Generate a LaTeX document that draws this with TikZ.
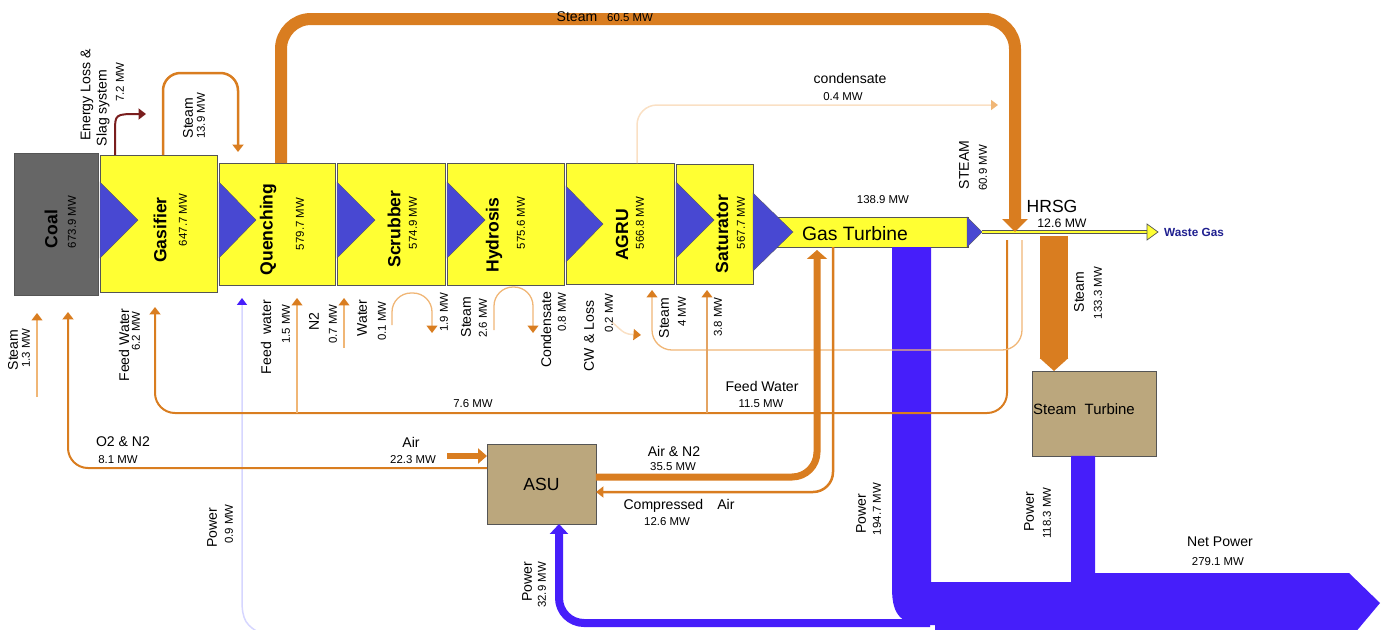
\documentclass[tikz,border=0pt]{standalone}
\usepackage{fontspec}
\setmainfont{Liberation Sans}
\usetikzlibrary{arrows.meta}

\definecolor{flowor}{HTML}{D97D20}
\definecolor{paleor}{HTML}{F0B676}
\definecolor{faintor}{HTML}{FAE0C4}
\definecolor{unityel}{HTML}{FFFF33}
\definecolor{triblue}{HTML}{4848D2}
\definecolor{powblue}{HTML}{461EFA}
\definecolor{faintblue}{HTML}{D6D6FF}
\definecolor{coalgray}{HTML}{666666}
\definecolor{plantan}{HTML}{BBA77D}
\definecolor{slagred}{HTML}{7A1E1E}
\definecolor{wastenavy}{HTML}{1F1F8F}
\definecolor{edgegray}{HTML}{555555}

\begin{document}
\begin{tikzpicture}[
    x=0.02cm, y=-0.02cm,
    unitbox/.style={draw=edgegray, fill=unityel, line width=0.5pt, inner sep=0, outer sep=0},
    plant/.style={draw=edgegray, fill=plantan, line width=0.5pt, inner sep=0, outer sep=0},
    tri/.style={fill=triblue, draw=edgegray, line width=0.2pt},
    unitname/.style={rotate=90, inner sep=0, font=\bfseries\fontsize{10}{12}\selectfont},
    txt/.style={inner sep=0, font=\fontsize{8}{9.5}\selectfont},
    mw/.style={inner sep=0, font=\fontsize{6.5}{8}\selectfont},
    vert/.style={rotate=90},
    flowtip/.style={-{Triangle[width=0.22cm, length=0.15cm, color=flowor]}},
    flow/.style={flowtip, draw=flowor, line width=0.04cm, rounded corners=0.4cm},
    paleflow/.style={flow, draw=paleor, line width=0.026cm}
]
\useasboundingbox (0,0) rectangle (1389,629);
\clip (0,0) rectangle (1389,629);

% process chain
\node[unitbox, fill=coalgray, minimum width=1.68cm, minimum height=2.84cm] (coal) at (56,224) {};
\node[unitbox, minimum width=2.34cm, minimum height=2.74cm] (gasifier) at (158.5,223.5) {};
\node[unitbox, minimum width=2.32cm, minimum height=2.44cm] (quench) at (277,224) {};
\node[unitbox, minimum width=2.16cm, minimum height=2.44cm] (scrub) at (391,224) {};
\node[unitbox, minimum width=2.34cm, minimum height=2.44cm] (hydro) at (505.5,224) {};
\node[unitbox, minimum width=2.16cm, minimum height=2.42cm] (agru) at (620,223.5) {};
\node[unitbox, minimum width=1.54cm, minimum height=2.40cm] (satur) at (714.5,224) {};
\node[unitbox, minimum width=3.84cm, minimum height=0.6cm] (gt) at (872,232) {};
\node[plant, minimum width=2.18cm, minimum height=1.6cm, font=\fontsize{10}{12}\selectfont] (asu) at (541.5,484) {ASU};
\node[plant, minimum width=2.48cm, minimum height=1.7cm] (stt) at (1094,413.5) {};

\foreach \a/\b/\m in {100/138/220, 219/256/220, 337/375/220, 447/485/220, 566/603/224, 676/714/220}
    \fill[tri] (\a,\m-38) -- (\b,\m) -- (\a,\m+38) -- cycle;
\fill[tri] (753,193) -- (793,232) -- (753,271) -- cycle;
\fill[tri] (967,217) -- (982,232) -- (967,247) -- cycle;

\coordinate (gtout) at (982,232);
\coordinate (wasteend) at (1149,232);
\coordinate (wastetip) at (1158,232);
\coordinate (hrsg) at (1015,232);
\coordinate (hrsgfw) at (1007,240);
\coordinate (hrsgst) at (1022,240);
\coordinate (hrsgdn) at (1054,236);
\coordinate (fw) at (0,413);
\coordinate (pw) at (0,623);

% exhaust
\draw[edgegray, line width=0.08cm] (gtout) -- (wasteend);
\draw[unityel, line width=0.04cm] (gtout) -- (wasteend);
\filldraw[fill=unityel, draw=edgegray, line width=0.4pt] (1147,224) -- (wastetip) -- (1147,240) -- cycle;

% power
\fill[powblue] (gt.south -| 892,0) -- (gt.south -| 931,0) -- (931,582) -- (1071,582)
    -- (stt.south -| 1071,0) -- (stt.south -| 1095,0) -- (1095,573) -- (1349,573)
    -- (1380,603) -- (1349,640) -- (935,640) -- (935,625) -- (930,625)
    .. controls (902,625) and (892,617) .. (892,588) -- cycle;
\draw[powblue, line width=0.16cm, rounded corners=0.5cm, -{Triangle[width=0.36cm, length=0.2cm]}]
    (pw -| 930,0) -- (pw -| 559,0) -- (asu.south -| 559,0);
\draw[faintblue, line width=0.03cm, -{Triangle[width=0.2cm, length=0.14cm, color=powblue]}, shorten >=0.26cm]
    (262,634) .. controls (246,626) and (242,620) .. (242,600) -- (quench.south -| 242,0);

% steam
\draw[flowor, line width=0.24cm, rounded corners=0.6cm, -{Triangle[width=0.5cm, length=0.26cm]}]
    (quench.north -| 281,0) -- (281,19) -- (1015,19) -- (hrsg);
\draw[flow, line width=0.05cm, rounded corners=0.35cm, shorten >=0.22cm]
    (gasifier.north -| 163,0) -- (163,73) -- (238,73) -- (quench.north -| 238,0);
\draw[slagred, line width=0.04cm, -{Triangle[width=0.22cm, length=0.15cm]}]
    (gasifier.north -| 115,0) -- (115,132) .. controls (115,114) .. (146,114);
\draw[faintor, line width=0.03cm, rounded corners=0.4cm, -{Triangle[width=0.2cm, length=0.14cm, color=paleor]}]
    (agru.north -| 637,0) -- (637,105) -- (998,105);
\draw[flowor, line width=0.56cm, -{Triangle[width=0.56cm, length=0.26cm]}] (hrsgdn) -- (stt.north -| 1054,0);

% feed water and side streams
\draw[flow, shorten >=0.3cm] (hrsgfw) -- (fw -| 1007,0) -- (fw -| 155,0) -- (gasifier.south -| 155,0);
\draw[paleflow, shorten >=0.12cm] (hrsgst) -- (1022,350) -- (652,350) -- (agru.south -| 652,0);
\draw[paleflow, draw=flowor!70, shorten >=0.12cm] (fw -| 707,0) -- (satur.south -| 707,0);
\draw[paleflow, shorten >=0.26cm] (fw -| 297,0) -- (quench.south -| 297,0);
\draw[paleflow, shorten >=0.26cm] (344,348) -- (scrub.south -| 344,0);
\draw[paleflow, shorten >=0.36cm] (37,397) -- (coal.south -| 37,0);
\draw[paleflow, rounded corners=0.38cm] (392,325) -- (392,293) -- (432,293) -- (432,333);
\draw[paleflow, rounded corners=0.38cm] (494,330) -- (494,287) -- (533,287) -- (533,333);
\draw[faintor, line width=0.03cm, flowtip] (612,322) .. controls (625,334) .. (641,335);

% air separation
\draw[flow, shorten >=0.34cm] (asu.west |- 0,468) -- (68,468) -- (coal.south -| 68,0);
\draw[flowor, line width=0.12cm, -{Triangle[width=0.3cm, length=0.18cm]}] (447,456) -- (asu.west |- 0,456);
\draw[flowor, line width=0.14cm, rounded corners=0.5cm, -{Triangle[width=0.4cm, length=0.18cm]}, shorten >=0.06cm]
    (asu.east |- 0,477) -- (817,477) -- (gt.south -| 817,0);
\draw[flow, line width=0.05cm] (gt.south -| 833,0) -- (833,492) -- (asu.east |- 0,492);

% labels
\node[unitname] (coaltxt) at (51,229) {Coal};
\node[mw, vert] (coalmw) at (72,222) {673.9 MW};
\node[unitname] (gastxt) at (160,230) {Gasifier};
\node[mw, vert] (gasmw) at (183,220) {647.7 MW};
\node[unitname] (quetxt) at (268,229.5) {Quenching};
\node[mw, vert] (quemw) at (300,224) {579.7 MW};
\node[unitname] (scrtxt) at (394,229) {Scrubber};
\node[mw, vert] (scrmw) at (413,223) {574.9 MW};
\node[unitname] (hydtxt) at (494,235) {Hydrosis};
\node[mw, vert] (hydmw) at (521,223) {575.6 MW};
\node[unitname] (agrtxt) at (622,235) {AGRU};
\node[mw, vert] (agrmw) at (640,223) {566.8 MW};
\node[unitname] (sattxt) at (722,234) {Saturator};
\node[mw, vert] (satmw) at (741,223) {567.7 MW};
\node[txt, font=\fontsize{11}{13}\selectfont] (gttxt) at (855,234) {Gas Turbine};
\node[mw] (gtmw) at (883,200) {138.9 MW};
\node[txt, font=\fontsize{10}{12}\selectfont] (hrsgtxt) at (1052,206) {HRSG};
\node[mw, font=\fontsize{7}{8}\selectfont] (hrsgmw) at (1062,223) {12.6 MW};
\node[inner sep=0, font=\bfseries\fontsize{6.7}{8}\selectfont, text=wastenavy] (wastetxt) at (1194,232) {Waste Gas};
\node[txt, font=\fontsize{8.5}{10}\selectfont] (stttxt) at (1084,409) {Steam\ \ Turbine};

\node[txt] (topst) at (577,17) {Steam};
\node[mw] (topmw) at (630,18) {60.5 MW};
\node[txt, vert] (slag1) at (87,95) {Energy Loss \&};
\node[txt, vert] (slag2) at (103,108) {Slag system};
\node[mw, vert] (slagmw) at (120,82) {7.2 MW};
\node[txt, vert] (st139) at (188,118) {Steam};
\node[mw, vert] (st139mw) at (201,116) {13.9 MW};
\node[txt] (condtxt) at (850,78) {condensate};
\node[mw] (condmw) at (843,97) {0.4 MW};
\node[txt, vert] (steamtxt) at (964,165) {STEAM};
\node[mw, vert] (steammw) at (983,168) {60.9 MW};
\node[txt, vert] (st133) at (1079,292) {Steam};
\node[mw, vert] (st133mw) at (1098,293) {133.3 MW};

\node[txt, vert] (st13) at (13,350) {Steam};
\node[mw, vert] (st13mw) at (26,348) {1.3 MW};
\node[txt, vert] (fw62) at (124,345) {Feed Water};
\node[mw, vert] (fw62mw) at (136,331) {6.2 MW};
\node[txt, vert] (fw15) at (266,337) {Feed\ \ water};
\node[mw, vert] (fw15mw) at (286,324) {1.5 MW};
\node[txt, vert] (n2txt) at (314,322) {N2};
\node[mw, vert] (n2mw) at (333,324) {0.7 MW};
\node[txt, vert] (wattxt) at (362,318) {Water};
\node[mw, vert] (watmw) at (382,321) {0.1 MW};
\node[mw, vert] (out19) at (444,312) {1.9 MW};
\node[txt, vert] (st26) at (466,317) {Steam};
\node[mw, vert] (st26mw) at (483,318) {2.6 MW};
\node[txt, vert] (condens) at (546,330) {Condensate};
\node[mw, vert] (condensmw) at (562,312) {0.8 MW};
\node[txt, vert] (cwtxt) at (589,336) {CW \& Loss};
\node[mw, vert] (cwmw) at (609,313) {0.2 MW};
\node[txt, vert] (st4) at (664,318) {Steam};
\node[mw, vert] (st4mw) at (682,312) {4 MW};
\node[mw, vert] (fw38mw) at (718,317) {3.8 MW};
\node[mw] (fw76mw) at (473,404) {7.6 MW};
\node[txt] (fw115) at (762,386) {Feed Water};
\node[mw] (fw115mw) at (761,404) {11.5 MW};

\node[txt] (o2txt) at (123,442) {O2 \& N2};
\node[mw] (o2mw) at (118,460) {8.1 MW};
\node[txt] (airtxt) at (411,442) {Air};
\node[mw] (airmw) at (413,460) {22.3 MW};
\node[txt] (airn2) at (674,451) {Air \& N2};
\node[mw] (airn2mw) at (673,467) {35.5 MW};
\node[txt] (comptxt) at (679,506) {Compressed\quad Air};
\node[mw] (compmw) at (667,522) {12.6 MW};

\node[txt, vert] (pw09) at (212,528) {Power};
\node[mw, vert] (pw09mw) at (229,524) {0.9 MW};
\node[txt, vert] (pw329) at (527,582) {Power};
\node[mw, vert] (pw329mw) at (542,585) {32.9 MW};
\node[txt, vert] (pw1947) at (861,514) {Power};
\node[mw, vert] (pw1947mw) at (877,509) {194.7 MW};
\node[txt, vert] (pw1183) at (1029,512) {Power};
\node[mw, vert] (pw1183mw) at (1047,513) {118.3 MW};
\node[txt] (nettxt) at (1220,542) {Net Power};
\node[mw] (netmw) at (1218,562) {279.1 MW};

\end{tikzpicture}
\end{document}
